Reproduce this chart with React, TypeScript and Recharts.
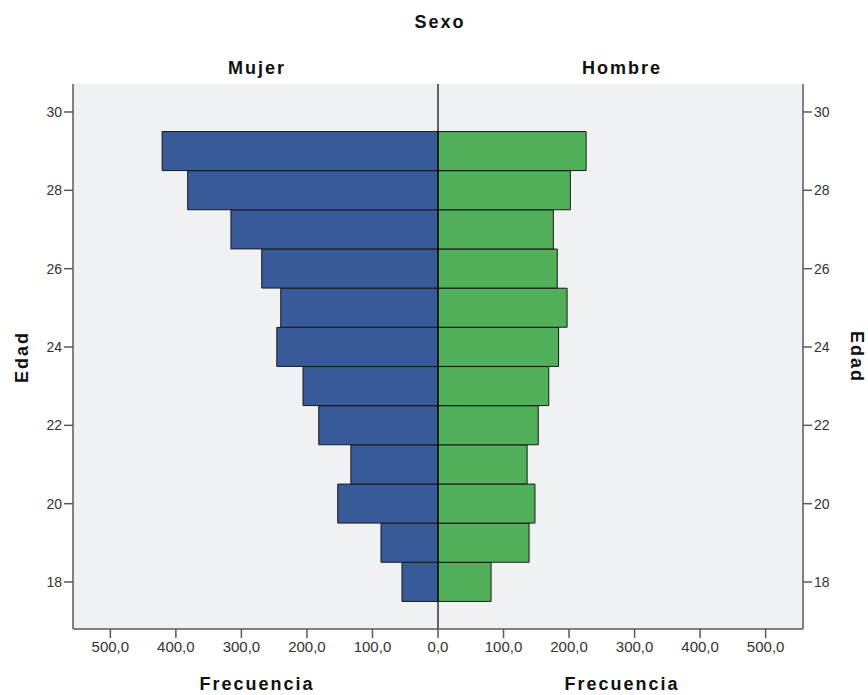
import React from 'react';
import { BarChart, Bar, XAxis, YAxis, CartesianGrid, ReferenceLine } from 'recharts';

// edades (years), one row per age; 30 is an empty row so the axis can show its tick
const edades = [18, 19, 20, 21, 22, 23, 24, 25, 26, 27, 28, 29, 30];
// frecuencia por sexo, same order as edades (no data for 30)
const mujer = [55, 87, 153, 133, 182, 206, 246, 240, 269, 316, 382, 421, null];
const hombre = [81, 139, 148, 136, 153, 169, 184, 197, 182, 176, 202, 226, null];

const freqTicks = [-500, -400, -300, -200, -100, 0, 100, 200, 300, 400, 500];

const data = edades.map((edad, i) => ({
  edad,
  mujer: mujer[i] == null ? null : -(mujer[i] as number), // left side of the pyramid
  hombre: hombre[i],
}));

const fmt = (v: number) => Math.abs(v).toFixed(1).replace('.', ',');

const FONT = '"Liberation Sans", Arial, sans-serif';
const BORDER = '#5a5a5a';
const tickStyle = { fill: '#333', fontSize: 14, fontFamily: FONT };
const xTickStyle = { fill: '#333', fontSize: 15, fontFamily: FONT };
const agePadding = { top: 8.4, bottom: 27.4 };

const labelStyle = (x: number, y: number, rot = 0): React.CSSProperties => ({
  position: 'absolute',
  left: x,
  top: y,
  transform: `translate(-50%, -50%) rotate(${rot}deg)`,
  fontFamily: FONT,
  fontWeight: 'bold',
  fontSize: 18,
  letterSpacing: 2,
  color: '#111',
  whiteSpace: 'nowrap',
});

const App: React.FC = () => {
  return (
    <div style={{ position: 'absolute', left: 0, top: 0, width: 868, height: 695, background: '#fff' }}>
      <BarChart
        width={868}
        height={695}
        data={data}
        layout="vertical"
        stackOffset="sign"
        barCategoryGap={0}
        margin={{ top: 84, right: 20, left: 28, bottom: 36 }}
      >
        <CartesianGrid fill="#f0f1f3" horizontal={false} vertical={false} yAxisId="l" />
        <XAxis
          type="number"
          domain={[-557, 557]}
          ticks={freqTicks}
          tickFormatter={fmt}
          allowDataOverflow
          height={30}
          tick={xTickStyle}
          tickSize={9}
          tickMargin={3}
          axisLine={{ stroke: BORDER, strokeWidth: 1.5 }}
          tickLine={{ stroke: BORDER, strokeWidth: 1.5 }}
        />
        <XAxis
          xAxisId="top"
          orientation="top"
          type="number"
          domain={[-557, 557]}
          height={0}
          tick={false}
          tickLine={false}
          axisLine={{ stroke: BORDER, strokeWidth: 1.5 }}
        />
        <YAxis
          yAxisId="l"
          type="category"
          dataKey="edad"
          reversed
          padding={agePadding}
          interval={1}
          width={45}
          tick={tickStyle}
          tickSize={9}
          tickMargin={2}
          axisLine={{ stroke: BORDER, strokeWidth: 1.5 }}
          tickLine={{ stroke: BORDER, strokeWidth: 1.5 }}
        />
        <YAxis
          yAxisId="r"
          orientation="right"
          type="category"
          dataKey="edad"
          reversed
          padding={agePadding}
          interval={1}
          width={45}
          tick={tickStyle}
          tickSize={9}
          tickMargin={2}
          axisLine={{ stroke: BORDER, strokeWidth: 1.5 }}
          tickLine={{ stroke: BORDER, strokeWidth: 1.5 }}
        />
        <Bar dataKey="mujer" yAxisId="l" stackId="s" fill="#385a98" stroke="#1a1a1a" strokeWidth={1} isAnimationActive={false} />
        <Bar dataKey="hombre" yAxisId="l" stackId="s" fill="#52af5a" stroke="#1a1a1a" strokeWidth={1} isAnimationActive={false} />
        <ReferenceLine x={0} yAxisId="l" stroke="#000" strokeWidth={1.2} />
      </BarChart>

      <div style={labelStyle(440, 22)}>Sexo</div>
      <div style={labelStyle(257, 68)}>Mujer</div>
      <div style={labelStyle(622, 68)}>Hombre</div>
      <div style={labelStyle(257, 684)}>Frecuencia</div>
      <div style={labelStyle(622, 684)}>Frecuencia</div>
      <div style={labelStyle(22, 357, -90)}>Edad</div>
      <div style={labelStyle(856, 357, 90)}>Edad</div>
    </div>
  );
};

export default App;
